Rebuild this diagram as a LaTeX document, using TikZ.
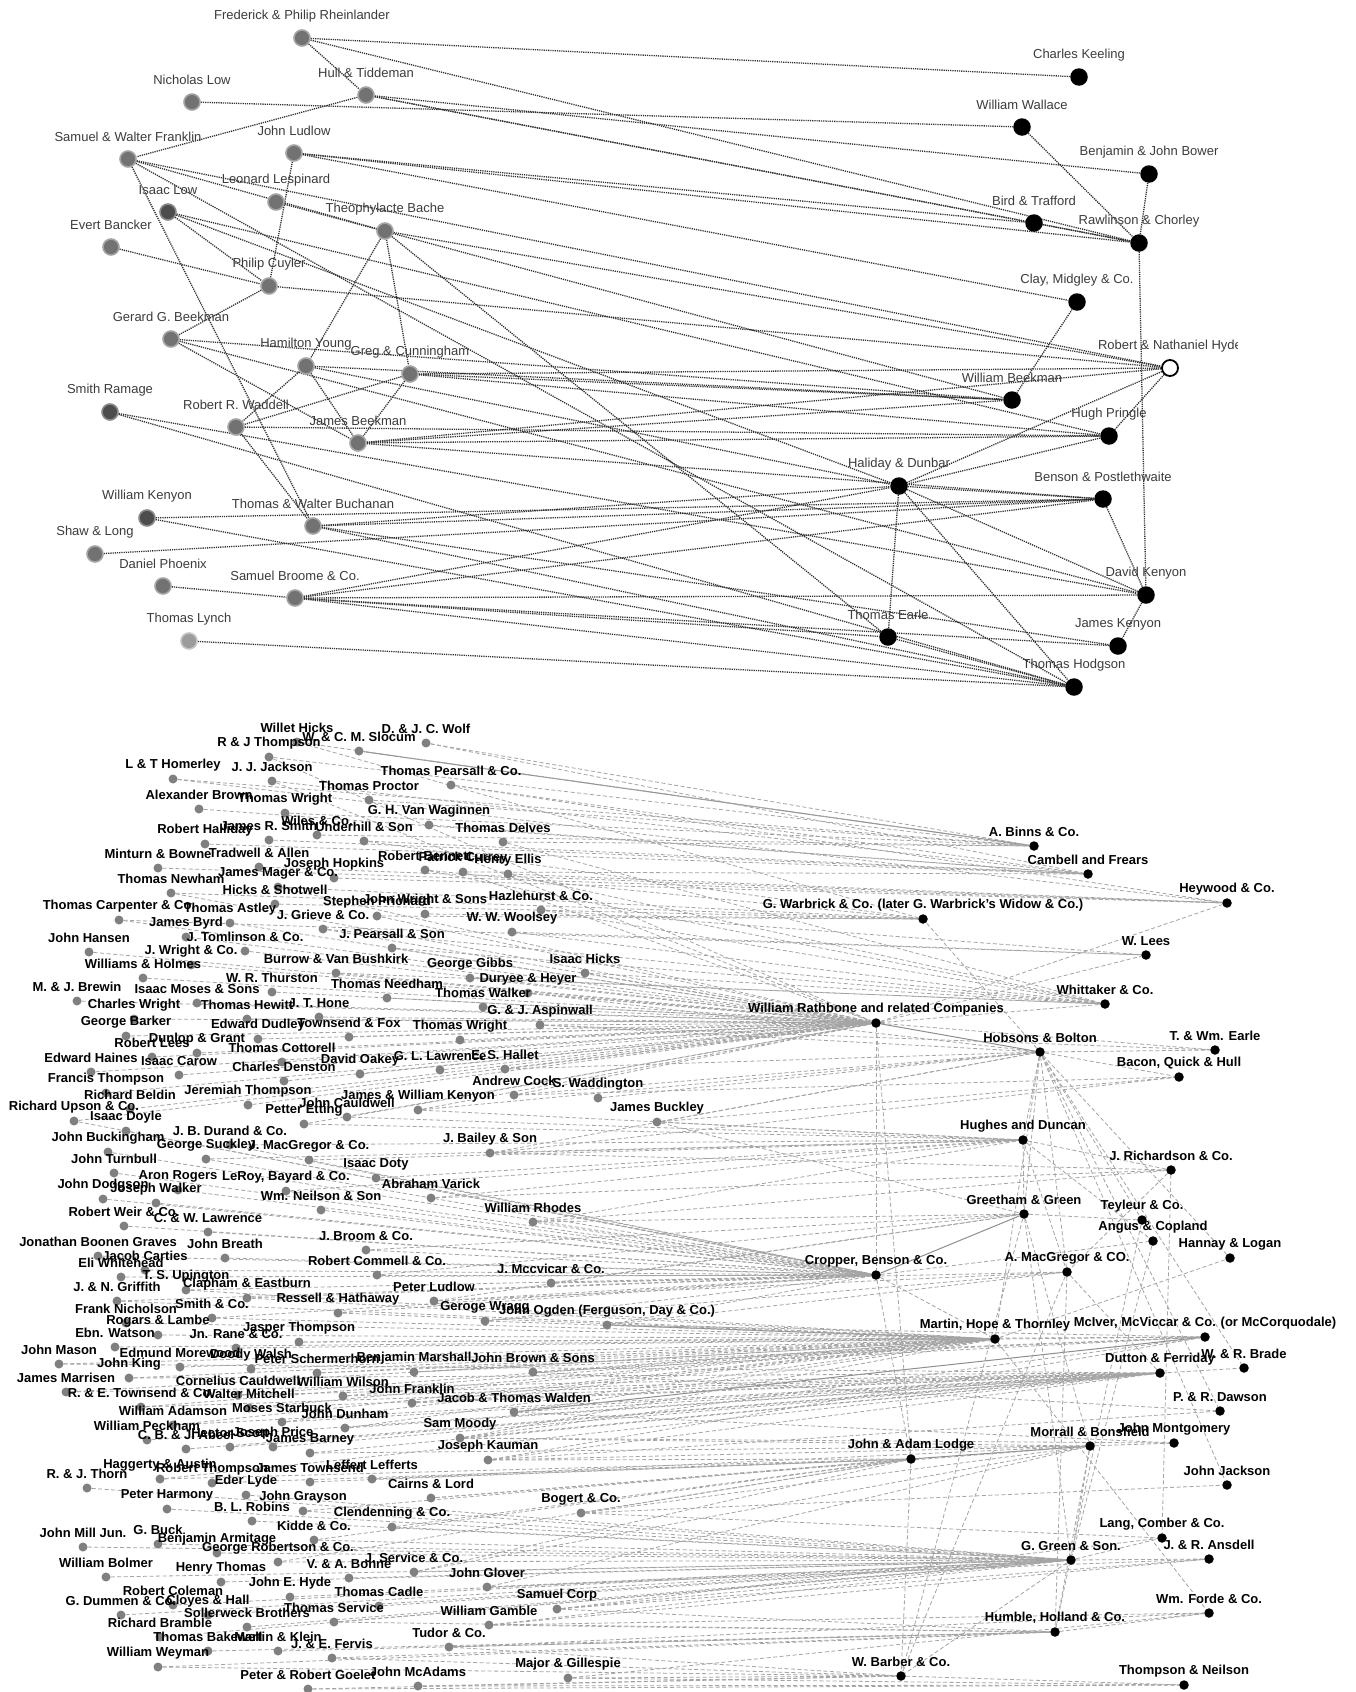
\documentclass[tikz,border=0pt]{standalone}
\usepackage{fontspec}
\setmainfont{Liberation Sans}
\usetikzlibrary{calc}
\pgfdeclarelayer{background}
\pgfsetlayers{background,main}
\definecolor{tgray}{HTML}{727272}
\definecolor{tring}{HTML}{A5A5A5}
\definecolor{tdark}{HTML}{4D4D4D}
\definecolor{tdring}{HTML}{8A8A8A}
\definecolor{tlight}{HTML}{9C9C9C}
\definecolor{tlring}{HTML}{C4C4C4}
\definecolor{tedge}{HTML}{303030}
\definecolor{tlabc}{HTML}{3C3C3C}
\definecolor{bgray}{HTML}{808080}
\definecolor{bedge}{HTML}{A4A4A4}
\definecolor{bsolid}{HTML}{8E8E8E}
\tikzset{
 tnode/.style={circle,inner sep=0pt,minimum size=16pt,fill=tgray,draw=tring,line width=1.6pt},
 tnoded/.style={tnode,fill=tdark,draw=tdring},
 tnodel/.style={tnode,fill=tlight,draw=tlring},
 tr/.style={circle,inner sep=0pt,minimum size=17.5pt,fill=black},
 thyde/.style={circle,inner sep=0pt,minimum size=16pt,fill=white,draw=black,line width=1.8pt},
 toplab/.style={inner sep=0pt,text=tlabc,font=\fontsize{13}{13}\selectfont},
 bnode/.style={circle,inner sep=0pt,minimum size=9pt,fill=bgray},
 bnoder/.style={circle,inner sep=0pt,minimum size=9.5pt,fill=black},
 botlab/.style={inner sep=0pt,text=black,font=\bfseries\fontsize{13}{13}\selectfont},
 topedge/.style={draw=tedge,line width=1.3pt,dash pattern=on 1.2pt off 1pt},
 botedge/.style={draw=bedge,line width=0.8pt,dash pattern=on 4pt off 2.5pt},
 botsolid/.style={draw=bsolid,line width=1pt}
}
\newcommand\mkT[5]{\node[#5] (#1) at (#2,#3) {}; \node[toplab] at ([yshift=22pt]#1.center) {#4};}
\newcommand\mkB[5]{\node[#5] (#1) at (#2,#3) {}; \node[botlab] at ([yshift=14pt]#1.center) {#4};}
\begin{document}
\begin{tikzpicture}[x=1pt,y=-1pt]
\useasboundingbox (0,0) rectangle (1355,1692);
% ---------------- top graph nodes
\mkT{fpr}{302}{38}{Frederick \& Philip Rheinlander}{tnode}
\mkT{nlow}{192}{102}{Nicholas Low}{tnode}
\mkT{ht}{366}{95}{Hull \& Tiddeman}{tnode}
\mkT{swf}{128}{159}{Samuel \& Walter Franklin}{tnode}
\mkT{jl}{294}{153}{John Ludlow}{tnode}
\mkT{ll}{276}{202}{Leonard Lespinard}{tnode}
\mkT{il}{168}{212}{Isaac Low}{tnoded}
\mkT{tb}{385}{231}{Theophylacte Bache}{tnode}
\mkT{eb}{111}{247}{Evert Bancker}{tnode}
\mkT{pc}{269}{286}{Philip Cuyler}{tnode}
\mkT{ggb}{171}{339}{Gerard G. Beekman}{tnode}
\mkT{hy}{306}{366}{Hamilton Young}{tnode}
\mkT{gc}{410}{374}{Greg \& Cunningham}{tnode}
\mkT{sr}{110}{412}{Smith Ramage}{tnoded}
\mkT{rrw}{236}{427}{Robert R. Waddell}{tnode}
\mkT{jb}{358}{443}{James Beekman}{tnode}
\mkT{wk}{147}{518}{William Kenyon}{tnoded}
\mkT{twb}{313}{526}{Thomas \& Walter Buchanan}{tnode}
\mkT{sl}{95}{554}{Shaw \& Long}{tnode}
\mkT{dp}{163}{586}{Daniel Phoenix}{tnode}
\mkT{sb}{295}{598}{Samuel Broome \& Co.}{tnode}
\mkT{tlyn}{189}{641}{Thomas Lynch}{tnodel}
\mkT{keel}{1079}{77}{Charles Keeling}{tr}
\mkT{wal}{1022}{127}{William Wallace}{tr}
\mkT{bjb}{1149}{174}{Benjamin \& John Bower}{tr}
\mkT{bird}{1034}{223}{Bird \& Trafford}{tr}
\mkT{raw}{1139}{243}{Rawlinson \& Chorley}{tr}
\mkT{clay}{1077}{302}{Clay, Midgley \& Co.}{tr}
\mkT{hyde}{1170}{368}{Robert \& Nathaniel Hyde}{thyde}
\mkT{wbk}{1012}{400}{William Beekman}{tr}
\mkT{pri}{1109}{436}{Hugh Pringle}{tr}
\mkT{hal}{899}{486}{Haliday \& Dunbar}{tr}
\mkT{ben}{1103}{499}{Benson \& Postlethwaite}{tr}
\mkT{dk}{1146}{595}{David Kenyon}{tr}
\mkT{te}{888}{637}{Thomas Earle}{tr}
\mkT{jk}{1118}{646}{James Kenyon}{tr}
\mkT{hod}{1074}{687}{Thomas Hodgson}{tr}
\fill[white] (1238,325) rectangle (1355,358);
% ---------------- bottom graph right nodes
\mkB{binns}{1034}{846}{A. Binns \& Co.}{bnoder}
\mkB{camb}{1088}{874}{Cambell and Frears}{bnoder}
\mkB{heyw}{1227}{903}{Heywood \& Co.}{bnoder}
\mkB{warb}{923}{919}{G. Warbrick \& Co. (later G. Warbrick's Widow \& Co.)}{bnoder}
\mkB{lees}{1146}{955}{W. Lees}{bnoder}
\mkB{whit}{1105}{1004}{Whittaker \& Co.}{bnoder}
\mkB{rath}{876}{1023}{William Rathbone and related Companies}{bnoder}
\mkB{hobs}{1040}{1052}{Hobsons \& Bolton}{bnoder}
\mkB{earle}{1215}{1050}{T. \& Wm. Earle}{bnoder}
\mkB{bacon}{1179}{1077}{Bacon, Quick \& Hull}{bnoder}
\mkB{hugh}{1023}{1140}{Hughes and Duncan}{bnoder}
\mkB{rich}{1171}{1170}{J. Richardson \& Co.}{bnoder}
\mkB{gree}{1024}{1214}{Greetham \& Green}{bnoder}
\mkB{teyl}{1142}{1220}{Teyleur \& Co.}{bnoder}
\mkB{angus}{1153}{1241}{Angus \& Copland}{bnoder}
\mkB{hann}{1230}{1258}{Hannay \& Logan}{bnoder}
\mkB{crop}{876}{1275}{Cropper, Benson \& Co.}{bnoder}
\mkB{amac}{1067}{1272}{A. MacGregor \& CO.}{bnoder}
\mkB{mart}{995}{1339}{Martin, Hope \& Thornley}{bnoder}
\mkB{mciv}{1205}{1337}{McIver, McViccar \& Co. (or McCorquodale)}{bnoder}
\mkB{dutt}{1160}{1373}{Dutton \& Ferriday}{bnoder}
\mkB{brade}{1244}{1368}{W. \& R. Brade}{bnoder}
\mkB{daws}{1220}{1411}{P. \& R. Dawson}{bnoder}
\mkB{morr}{1090}{1446}{Morrall \& Bonsfield}{bnoder}
\mkB{mont}{1174}{1443}{John Montgomery}{bnoder}
\mkB{lodge}{911}{1459}{John \& Adam Lodge}{bnoder}
\mkB{jjack}{1227}{1485}{John Jackson}{bnoder}
\mkB{lang}{1162}{1538}{Lang, Comber \& Co.}{bnoder}
\mkB{ggr}{1071}{1560}{G. Green \& Son.}{bnoder}
\mkB{ansd}{1209}{1559}{J. \& R. Ansdell}{bnoder}
\mkB{forde}{1209}{1613}{Wm. Forde \& Co.}{bnoder}
\mkB{humb}{1055}{1632}{Humble, Holland \& Co.}{bnoder}
\mkB{barb}{901}{1676}{W. Barber \& Co.}{bnoder}
\mkB{thne}{1184}{1685}{Thompson \& Neilson}{bnoder}
% ---------------- bottom graph left nodes
\mkB{wh}{297}{742}{Willet Hicks}{bnode}
\mkB{wcs}{359}{751}{W. \& C. M. Slocum}{bnode}
\mkB{djw}{426}{743}{D. \& J. C. Wolf}{bnode}
\mkB{rjt}{269}{757}{R \& J Thompson}{bnode}
\mkB{lth}{173}{779}{L \& T Homerley}{bnode}
\mkB{jjj}{272}{781}{J. J. Jackson}{bnode}
\mkB{tpe}{451}{785}{Thomas Pearsall \& Co.}{bnode}
\mkB{tpr}{369}{800}{Thomas Proctor}{bnode}
\mkB{abr}{199}{809}{Alexander Brown}{bnode}
\mkB{twr}{285}{813}{Thomas Wright}{bnode}
\mkB{ghv}{429}{825}{G. H. Van Waginnen}{bnode}
\mkB{wil}{317}{835}{Wiles \& Co.}{bnode}
\mkB{rha}{205}{844}{Robert Halliday}{bnode}
\mkB{jrs}{269}{840}{James R. Smith}{bnode}
\mkB{und}{364}{841}{Underhill \& Son}{bnode}
\mkB{tde}{503}{842}{Thomas Delves}{bnode}
\mkB{mib}{158}{868}{Minturn \& Bowne}{bnode}
\mkB{tra}{259}{867}{Tradwell \& Allen}{bnode}
\mkB{rbe}{425}{870}{Robert Bennett}{bnode}
\mkB{pcu}{463}{872}{Patrick Currey}{bnode}
\mkB{hel}{508}{874}{Henry Ellis}{bnode}
\mkB{jho}{334}{878}{Joseph Hopkins}{bnode}
\mkB{jma}{278}{887}{James Mager \& Co.}{bnode}
\mkB{tne}{171}{893}{Thomas Newham}{bnode}
\mkB{spr}{377}{916}{Stephen Prichard}{bnode}
\mkB{hsh}{275}{904}{Hicks \& Shotwell}{bnode}
\mkB{jws}{425}{914}{John Wright \& Sons}{bnode}
\mkB{haz}{541}{910}{Hazlehurst \& Co.}{bnode}
\mkB{tca}{119}{920}{Thomas Carpenter \& Co.}{bnode}
\mkB{tas}{230}{923}{Thomas Astley}{bnode}
\mkB{jgr}{323}{929}{J. Grieve \& Co.}{bnode}
\mkB{www}{512}{932}{W. W. Woolsey}{bnode}
\mkB{jby}{186}{937}{James Byrd}{bnode}
\mkB{jha}{89}{952}{John Hansen}{bnode}
\mkB{jto}{245}{951}{J. Tomlinson \& Co.}{bnode}
\mkB{jps}{392}{948}{J. Pearsall \& Son}{bnode}
\mkB{jwc}{191}{965}{J. Wright \& Co.}{bnode}
\mkB{bvb}{336}{973}{Burrow \& Van Bushkirk}{bnode}
\mkB{ggi}{470}{978}{George Gibbs}{bnode}
\mkB{iha}{585}{973}{Isaac Hicks}{bnode}
\mkB{who}{143}{978}{Williams \& Holmes}{bnode}
\mkB{wrt}{272}{992}{W. R. Thurston}{bnode}
\mkB{tnd}{387}{998}{Thomas Needham}{bnode}
\mkB{dhe}{528}{993}{Duryee \& Heyer}{bnode}
\mkB{twa}{483}{1007}{Thomas Walker}{bnode}
\mkB{mjb}{77}{1001}{M. \& J. Brewin}{bnode}
\mkB{ims}{197}{1003}{Isaac Moses \& Sons}{bnode}
\mkB{cwr}{134}{1019}{Charles Wright}{bnode}
\mkB{the}{247}{1019}{Thomas Hewitt}{bnode}
\mkB{jth}{319}{1017}{J. T. Hone}{bnode}
\mkB{gja}{540}{1025}{G. \& J. Aspinwall}{bnode}
\mkB{gba}{126}{1036}{George Barker}{bnode}
\mkB{edu}{258}{1039}{Edward Dudley}{bnode}
\mkB{tfo}{349}{1037}{Townsend \& Fox}{bnode}
\mkB{twr2}{460}{1040}{Thomas Wright}{bnode}
\mkB{dgr}{197}{1053}{Dunlop \& Grant}{bnode}
\mkB{rle}{152}{1057}{Robert Lees}{bnode}
\mkB{tco}{282}{1062}{Thomas Cottorell}{bnode}
\mkB{eha}{91}{1072}{Edward Haines}{bnode}
\mkB{ica}{179}{1075}{Isaac Carow}{bnode}
\mkB{cde}{284}{1081}{Charles Denston}{bnode}
\mkB{doa}{360}{1074}{David Oakey}{bnode}
\mkB{gll}{440}{1070}{G. L. Lawrence}{bnode}
\mkB{esh}{505}{1069}{E. S. Hallet}{bnode}
\mkB{fth}{106}{1093}{Francis Thompson}{bnode}
\mkB{aco}{514}{1095}{Andrew Cock}{bnode}
\mkB{swa}{598}{1098}{S. Waddington}{bnode}
\mkB{rbl}{130}{1109}{Richard Beldin}{bnode}
\mkB{jet}{248}{1105}{Jeremiah Thompson}{bnode}
\mkB{jwk}{418}{1110}{James \& William Kenyon}{bnode}
\mkB{ruc}{74}{1121}{Richard Upson \& Co.}{bnode}
\mkB{jca}{347}{1117}{John Cauldwell}{bnode}
\mkB{pet}{304}{1124}{Petter Etting}{bnode}
\mkB{jbu}{657}{1122}{James Buckley}{bnode}
\mkB{ido}{126}{1131}{Isaac Doyle}{bnode}
\mkB{jbd}{230}{1145}{J. B. Durand \& Co.}{bnode}
\mkB{jbs}{490}{1153}{J. Bailey \& Son}{bnode}
\mkB{jbk}{108}{1152}{John Buckingham}{bnode}
\mkB{gsu}{206}{1159}{George Suckley}{bnode}
\mkB{jmg}{309}{1160}{J. MacGregor \& Co.}{bnode}
\mkB{jtu}{114}{1173}{John Turnbull}{bnode}
\mkB{idt}{376}{1178}{Isaac Doty}{bnode}
\mkB{aro}{178}{1190}{Aron Rogers}{bnode}
\mkB{lrb}{286}{1191}{LeRoy, Bayard \& Co.}{bnode}
\mkB{ava}{431}{1198}{Abraham Varick}{bnode}
\mkB{jdo}{103}{1199}{John Dodgson}{bnode}
\mkB{jwa}{156}{1203}{Joseph Walker}{bnode}
\mkB{wns}{321}{1210}{Wm. Neilson \& Son}{bnode}
\mkB{wrh}{533}{1222}{William Rhodes}{bnode}
\mkB{rwe}{124}{1226}{Robert Weir \& Co.}{bnode}
\mkB{cwl}{208}{1232}{C. \& W. Lawrence}{bnode}
\mkB{jbg}{98}{1256}{Jonathan Boonen Graves}{bnode}
\mkB{jbr}{225}{1258}{John Breath}{bnode}
\mkB{jbc}{366}{1250}{J. Broom \& Co.}{bnode}
\mkB{jct}{145}{1270}{Jacob Carties}{bnode}
\mkB{ewh}{121}{1277}{Eli Whitehead}{bnode}
\mkB{rcc}{377}{1275}{Robert Commell \& Co.}{bnode}
\mkB{jmc}{551}{1283}{J. Mccvicar \& Co.}{bnode}
\mkB{tsu}{186}{1290}{T. S. Upington}{bnode}
\mkB{jng}{117}{1301}{J. \& N. Griffith}{bnode}
\mkB{cea}{247}{1298}{Clapham \& Eastburn}{bnode}
\mkB{plu}{434}{1301}{Peter Ludlow}{bnode}
\mkB{fni}{126}{1323}{Frank Nicholson}{bnode}
\mkB{sco}{212}{1318}{Smith \& Co.}{bnode}
\mkB{rhw}{338}{1313}{Ressell \& Hathaway}{bnode}
\mkB{gwr}{485}{1321}{Geroge Wragg}{bnode}
\mkB{jog}{607}{1325}{John Ogden (Ferguson, Day \& Co.)}{bnode}
\mkB{rla}{158}{1335}{Rogars \& Lambe}{bnode}
\mkB{ewa}{115}{1347}{Ebn. Watson}{bnode}
\mkB{jrc}{236}{1348}{Jn. Rane \& Co.}{bnode}
\mkB{jtp}{299}{1342}{Jasper Thompson}{bnode}
\mkB{jms}{59}{1364}{John Mason}{bnode}
\mkB{emo}{180}{1367}{Edmund Morewood}{bnode}
\mkB{dwa}{251}{1369}{Doody Walsh}{bnode}
\mkB{psc}{317}{1373}{Peter Schermerhorn}{bnode}
\mkB{bma}{414}{1372}{Benjamin Marshall}{bnode}
\mkB{jbs2}{533}{1372}{John Brown \& Sons}{bnode}
\mkB{jki}{129}{1378}{John King}{bnode}
\mkB{jmr}{66}{1392}{James Marrisen}{bnode}
\mkB{ccw}{238}{1395}{Cornelius Cauldwell}{bnode}
\mkB{wwi}{343}{1396}{William Wilson}{bnode}
\mkB{jfr}{412}{1403}{John Franklin}{bnode}
\mkB{ret}{141}{1407}{R. \& E. Townsend \& Co.}{bnode}
\mkB{wmi}{249}{1408}{Walter Mitchell}{bnode}
\mkB{jtw}{514}{1412}{Jacob \& Thomas Walden}{bnode}
\mkB{wad}{173}{1425}{William Adamson}{bnode}
\mkB{mst}{282}{1422}{Moses Starbuck}{bnode}
\mkB{jdu}{345}{1428}{John Dunham}{bnode}
\mkB{smo}{460}{1438}{Sam Moody}{bnode}
\mkB{wpe}{147}{1440}{William Peckham}{bnode}
\mkB{hsc}{230}{1447}{Hector Scott}{bnode}
\mkB{jpr}{273}{1447}{Joseph Price}{bnode}
\mkB{cba}{186}{1449}{C. B. \& J. Abeel}{bnode}
\mkB{jba}{310}{1453}{James Barney}{bnode}
\mkB{jka}{488}{1460}{Joseph Kauman}{bnode}
\mkB{hau}{160}{1479}{Haggerty \& Austin}{bnode}
\mkB{rth}{212}{1483}{Robert Thompson}{bnode}
\mkB{jto2}{310}{1482}{James Townsend}{bnode}
\mkB{lle}{372}{1479}{Leffert Lefferts}{bnode}
\mkB{rjth}{87}{1488}{R. \& J. Thorn}{bnode}
\mkB{ely}{246}{1495}{Eder Lyde}{bnode}
\mkB{clo}{431}{1498}{Cairns \& Lord}{bnode}
\mkB{pha}{167}{1509}{Peter Harmony}{bnode}
\mkB{jgy}{303}{1511}{John Grayson}{bnode}
\mkB{blr}{252}{1521}{B. L. Robins}{bnode}
\mkB{bog}{581}{1513}{Bogert \& Co.}{bnode}
\mkB{clc}{392}{1527}{Clendenning \& Co.}{bnode}
\mkB{kid}{314}{1540}{Kidde \& Co.}{bnode}
\mkB{jmj}{83}{1547}{John Mill Jun.}{bnode}
\mkB{gbu}{158}{1544}{G. Buck}{bnode}
\mkB{bar}{217}{1553}{Benjamin Armitage}{bnode}
\mkB{grc}{278}{1562}{George Robertson \& Co.}{bnode}
\mkB{jsc}{414}{1572}{J. Service \& Co.}{bnode}
\mkB{wbo}{106}{1577}{William Bolmer}{bnode}
\mkB{hth}{221}{1582}{Henry Thomas}{bnode}
\mkB{vab}{349}{1578}{V. \& A. Bonne}{bnode}
\mkB{jgl}{487}{1587}{John Glover}{bnode}
\mkB{rco}{173}{1605}{Robert Coleman}{bnode}
\mkB{jeh}{290}{1597}{John E. Hyde}{bnode}
\mkB{tcd}{379}{1606}{Thomas Cadle}{bnode}
\mkB{sco2}{557}{1609}{Samuel Corp}{bnode}
\mkB{gdc}{121}{1615}{G. Dummen \& Co.}{bnode}
\mkB{chl}{208}{1615}{Cloyes \& Hall}{bnode}
\mkB{tse}{334}{1622}{Thomas Service}{bnode}
\mkB{wga}{489}{1625}{William Gamble}{bnode}
\mkB{sbr}{247}{1627}{Sollerweck Brothers}{bnode}
\mkB{rbr}{160}{1637}{Richard Bramble}{bnode}
\mkB{tba}{208}{1651}{Thomas Bakewell}{bnode}
\mkB{mkl}{278}{1651}{Martin \& Klein}{bnode}
\mkB{tud}{449}{1647}{Tudor \& Co.}{bnode}
\mkB{jef}{332}{1658}{J. \& E. Fervis}{bnode}
\mkB{wwe}{158}{1667}{William Weyman}{bnode}
\mkB{mgi}{568}{1678}{Major \& Gillespie}{bnode}
\mkB{jmc2}{418}{1686}{John McAdams}{bnode}
\mkB{prg}{308}{1689}{Peter \& Robert Goelet}{bnode}
% ---------------- edges
\begin{pgfonlayer}{background}
\fill[white] (0,0) rectangle (1355,1692);
% top graph
\foreach \s/\t in {fpr/keel,fpr/ht,fpr/raw,nlow/wal,ht/swf,ht/bjb,ht/bird,ht/raw,
 swf/tb,swf/hyde,swf/twb,swf/hod,jl/bird,jl/raw,jl/clay,jl/pc,ll/wbk,il/pc,il/hal,il/pri,
 tb/hy,tb/gc,tb/hyde,tb/te,eb/pc,pc/ggb,pc/hyde,ggb/jb,ggb/wbk,ggb/dk,hy/rrw,hy/jb,hy/wbk,hy/hal,
 gc/rrw,gc/jb,gc/wbk,gc/hyde,gc/pri,sr/hod,sr/dk,rrw/twb,rrw/pri,jb/wbk,jb/hyde,jb/pri,jb/ben,
 wk/ben,wk/hod,twb/hal,twb/hod,twb/jk,twb/ben,sl/ben,dp/sb,sb/hal,sb/ben,sb/te,sb/hod,sb/jk,sb/dk,
 tlyn/hod,wal/raw,bjb/raw,bird/raw,raw/dk,clay/wbk,hyde/pri,hyde/hal,pri/hal,hal/ben,hal/te,
 hal/hod,hal/dk,ben/dk,dk/jk,te/hod}
 \draw[topedge] (\s) -- (\t);
% bottom graph
\draw[botsolid] (wcs) -- (binns);
\draw[botsolid] (rath) -- (hobs);
\draw[botsolid] (crop) -- (gree);
\draw[botsolid] (lodge) -- (morr);
\draw[botsolid] (jog) -- (mart);
\draw[botsolid] (jtw) -- (mciv);
\foreach \s in {djw,rjt,lth,tpr,twr,wil,tde,wh} \draw[botedge] (\s) -- (binns);
\foreach \s in {jjj,tpe,ghv,abr,rha,jrs,und,pcu,djw} \draw[botedge] (\s) -- (camb);
\foreach \s in {lth,tpe,hel,mib,tra,jho,rath} \draw[botedge] (\s) -- (heyw);
\foreach \s in {wh,und,rbe,jma,hsh,jws,tne,spr,hobs} \draw[botedge] (\s) -- (warb);
\foreach \s in {tde,hel,www,haz,jgr,bvb,ggi,jps,iha,rbe,rath} \draw[botedge] (\s) -- (whit);
\foreach \s in {haz,www,tca,rath} \draw[botedge] (\s) -- (lees);
\foreach \s in {tca,tas,jby,jha,jto,jwc,who,wrt,tnd,dhe,twa,mjb,ims,cwr,the,jth,gja,gba,edu,tfo,
 twr2,dgr,rle,tco,eha,ica,cde,doa,gll,esh,fth,aco,rbl,jet,jwk,jgr,jps,ggi,iha,bvb,pcu,jjj,rjt,tne,
 jma,spr,ruc,jca,pet} \draw[botedge] (\s) -- (rath);
\foreach \s in {swa,jbu,jwk,aco,esh,gja,dhe,jbs} \draw[botedge] (\s) -- (hobs);
\foreach \s in {rath,gja,hobs} \draw[botedge] (\s) -- (earle);
\foreach \s in {jbs,jbu,hobs,aco} \draw[botedge] (\s) -- (bacon);
\foreach \s in {jbu,jbs,wrh,jwk,idt,ava,jmg,pet,jca,gsu,lrb,jbd,hobs} \draw[botedge] (\s) -- (hugh);
\foreach \s in {wrh,ava,jbs,hugh} \draw[botedge] (\s) -- (rich);
\foreach \s in {jbu,wrh,jmc,plu,rcc,jbc,hugh,hobs} \draw[botedge] (\s) -- (gree);
\foreach \s in {gree,hobs} \draw[botedge] (\s) -- (teyl);
\foreach \s in {hugh,crop} \draw[botedge] (\s) -- (angus);
\foreach \s in {mart,hobs} \draw[botedge] (\s) -- (hann);
\foreach \s in {ido,jbk,jtu,aro,jdo,jwa,wns,rwe,cwl,jbg,jbr,jbc,jct,ewh,rcc,tsu,jng,cea,sco,rhw,
 jbd,gsu,jmg,idt,lrb,wrh,jmc,gwr,plu,jog,rath,ruc} \draw[botedge] (\s) -- (crop);
\foreach \s in {jog,jmc,plu,gwr,hobs,rich,hugh} \draw[botedge] (\s) -- (amac);
\foreach \s in {fni,sco,rla,ewa,jrc,jtp,jms,emo,dwa,psc,bma,jbs2,jki,jmr,ccw,wwi,jfr,ret,wmi,jtw,
 wad,mst,jdu,smo,gwr,rhw,jng,cea,tsu,hobs,crop} \draw[botedge] (\s) -- (mart);
\foreach \s in {jog,jbs2,bma,psc,jtp,smo,jka,mart} \draw[botedge] (\s) -- (mciv);
\foreach \s in {jms,jki,jmr,ccw,wwi,jfr,ret,wmi,wad,mst,jdu,wpe,hsc,jpr,cba,jba,jka,smo,hau,amac}
 \draw[botedge] (\s) -- (dutt);
\foreach \s in {jtw,hobs} \draw[botedge] (\s) -- (brade);
\foreach \s in {jbs2,jka,hobs} \draw[botedge] (\s) -- (daws);
\foreach \s in {jka,smo,clo,bog,jsc,jgl,jba,lle,gree} \draw[botedge] (\s) -- (morr);
\foreach \s in {smo,jtw,morr} \draw[botedge] (\s) -- (mont);
\foreach \s in {jka,clo,bog,clc,lle,jto2,rth,hau,jgy,kid,grc,jsc,rath,crop} \draw[botedge] (\s) -- (lodge);
\foreach \s in {bog,hobs} \draw[botedge] (\s) -- (jjack);
\foreach \s in {rjth,pha,ely,jgy,blr,clc,kid,jmj,gbu,bar,grc,jsc,wbo,hth,vab,jgl,rco,jeh,tcd,sco2,
 gdc,chl,tse,wga,sbr,rbr,gree,morr,angus} \draw[botedge] (\s) -- (ggr);
\foreach \s in {sco2,jgl,wga,ggr} \draw[botedge] (\s) -- (ansd);
\foreach \s in {bog,sco2,rich,ggr} \draw[botedge] (\s) -- (lang);
\foreach \s in {tud,jef,mkl,tba,wwe,wga,sco2,tse,amac,morr,teyl} \draw[botedge] (\s) -- (humb);
\foreach \s in {wga,tud,mgi,humb,mart} \draw[botedge] (\s) -- (forde);
\foreach \s in {prg,jmc2,mgi,tud,jef,wwe,lodge,gree,amac,ggr} \draw[botedge] (\s) -- (barb);
\foreach \s in {prg,jmc2,mgi,barb} \draw[botedge] (\s) -- (thne);
\end{pgfonlayer}
\end{tikzpicture}
\end{document}
